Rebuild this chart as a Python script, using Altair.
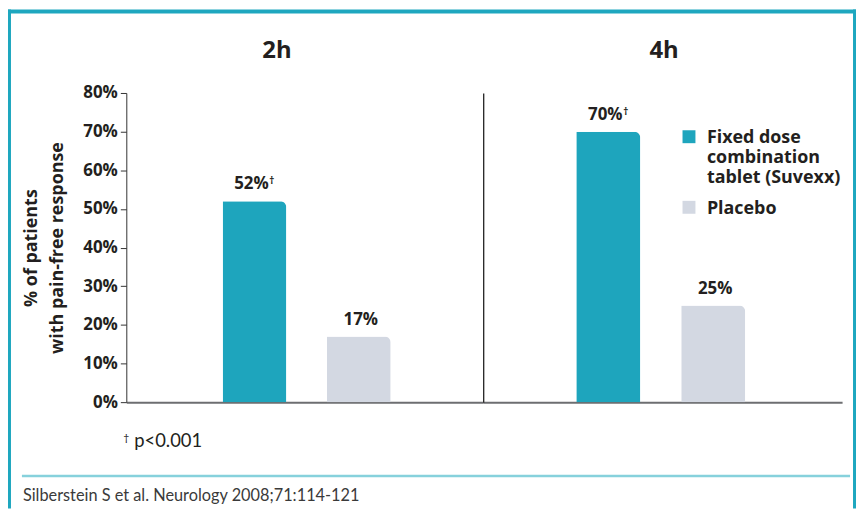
import altair as alt
import pandas as pd

# ---- data ----
times = ["2h", "2h", "4h", "4h"]
treatments = ["Fixed dose combination tablet (Suvexx)", "Placebo",
              "Fixed dose combination tablet (Suvexx)", "Placebo"]
values = [52, 17, 70, 25]
significant = [True, False, True, False]
series = ["Fixed dose combination tablet (Suvexx)", "Placebo"]
series_colors = ["#1ea5bd", "#d3d8e2"]
y_ticks = [0, 10, 20, 30, 40, 50, 60, 70, 80]
y_title = ["% of patients", "with pain-free response"]
footnote = "p<0.001"
citation = "Silberstein S et al. Neurology 2008;71:114-121"

df = pd.DataFrame({"time": times, "treatment": treatments,
                   "value": values, "sig": significant})
df["label"] = df["value"].astype(str) + "%"

FONT = "Open Sans"
TXT = "#231f20"
TEAL = "#1ea7bf"
H = 311


def panel(time, width, align, first):
    base = alt.Chart(df).transform_filter(alt.datum.time == time)
    xaxis = alt.Axis(labels=False, ticks=False, title=None, grid=False,
                     domainColor="#6d6e71", domainWidth=2)
    x = alt.X("treatment:N", sort=series,
              scale=alt.Scale(paddingInner=0.39, paddingOuter=0.905, align=align),
              axis=xaxis)
    if first:
        yaxis = alt.Axis(values=[float(v) for v in y_ticks],
                         labelExpr="datum.value + '%'",
                         grid=False,
                         labelFont=FONT, labelFontSize=17, labelFontWeight="bold",
                         labelColor=TXT, labelPadding=3, labelFlush=False,
                         labelOverlap=False, labelSeparation=0,
                         tickSize=6, tickColor="#333333", tickWidth=1,
                         domainColor="#333333", domainWidth=1,
                         title=y_title, titleFont=FONT, titleFontSize=18,
                         titleFontWeight="bold", titleColor=TXT, titleLineHeight=26,
                         titleAngle=270, titleAlign="center", titleBaseline="alphabetic",
                         titleX=-90, titleY=H / 2)
        legend = None
    else:
        yaxis = alt.Axis(labels=False, ticks=False, title=None, grid=False,
                         domainColor="#222222", domainWidth=1.3)
        legend = alt.Legend(
            title=None, orient="none", legendX=198, legendY=41.5, direction="vertical",
            symbolType="M-1,-2H1V0H-1Z", symbolSize=169, symbolStrokeWidth=0,
            symbolOpacity=1, labelFont=FONT, labelFontSize=18, labelFontWeight="bold",
            labelColor=TXT, labelBaseline="alphabetic",
            labelOffset=9, labelLimit=400, rowPadding=13, padding=0,
            labelExpr="datum.label == 'Placebo' ? 'Placebo' : "
                      "['Fixed dose', 'combination', 'tablet (Suvexx)']")
    yscale = alt.Scale(domain=[0, 80], nice=False, zero=True)
    y = alt.Y("value:Q", scale=yscale, axis=yaxis)
    color = alt.Color("treatment:N", scale=alt.Scale(domain=series, range=series_colors),
                      legend=legend)

    bars = base.mark_bar(cornerRadiusTopRight=6).encode(x=x, y=y, color=color)
    lab_sig = base.transform_filter("datum.sig").mark_text(
        font=FONT, fontSize=17, fontWeight="bold", color=TXT,
        baseline="alphabetic", dx=-3, dy=-12).encode(x=x, y=y, text="label:N")
    dag = base.transform_filter("datum.sig").mark_text(
        text="\u2020", font=FONT, fontSize=10, fontWeight="bold", color=TXT,
        align="left", baseline="alphabetic", dx=15, dy=-17).encode(x=x, y=y)
    lab_ns = base.transform_filter("!datum.sig").mark_text(
        font=FONT, fontSize=17, fontWeight="bold", color=TXT,
        baseline="alphabetic", dx=2, dy=-12).encode(x=x, y=y, text="label:N")

    layers = [bars, lab_sig, dag, lab_ns]

    if first:
        deco = alt.Chart(pd.DataFrame({"k": [0]}))
        top_bar = deco.mark_rect(color=TEAL).encode(
            x=alt.value(-119), x2=alt.value(734), y=alt.value(-84), y2=alt.value(-80))
        left_bar = deco.mark_rect(color=TEAL).encode(
            x=alt.value(-119), x2=alt.value(-116), y=alt.value(-84), y2=alt.value(418))
        right_bar = deco.mark_rect(color=TEAL).encode(
            x=alt.value(731), x2=alt.value(734), y=alt.value(-84), y2=alt.value(418))
        sep = deco.mark_rect(color="#86d1dc").encode(
            x=alt.value(-105), x2=alt.value(728), y=alt.value(384), y2=alt.value(386.5))
        fn_dag = deco.mark_text(text="\u2020", font="Lato", fontSize=10.5, color="#222222",
                                align="left", baseline="alphabetic").encode(
            x=alt.value(-3), y=alt.value(350))
        fn = deco.mark_text(text=footnote, font="Lato", fontSize=18.5, color=TXT,
                            align="left", baseline="alphabetic").encode(
            x=alt.value(8), y=alt.value(356))
        cit = deco.mark_text(text=citation, font="Lato", fontSize=16.4, color="#3a3a3a",
                             align="left", baseline="alphabetic").encode(
            x=alt.value(-104), y=alt.value(410))
        layers += [top_bar, left_bar, right_bar, sep, fn_dag, fn, cit]
        title = alt.Title(time, anchor="middle", frame="group", dx=-28, offset=-73,
                          baseline="alphabetic", font=FONT, fontSize=24,
                          fontWeight="bold", color=TXT)
    else:
        title = alt.Title(time, anchor="middle", frame="group", dx=1.5, offset=11,
                          baseline="alphabetic", font=FONT, fontSize=24,
                          fontWeight="bold", color=TXT)

    return alt.layer(*layers).properties(width=width, height=H, title=title)


p1 = panel("2h", 359, 0.51, True)
p2 = panel("4h", 361, 0.49, False)

chart = (
    alt.hconcat(p1, p2, spacing=0, bounds="flush")
    .resolve_scale(x="independent", y="independent", color="independent")
    .resolve_axis(y="independent")
    .resolve_legend(color="independent")
    .properties(padding=0, background="white")
    .configure_view(strokeWidth=0)
)

chart.save("out.html", embed_options={"renderer": "svg", "actions": False})
